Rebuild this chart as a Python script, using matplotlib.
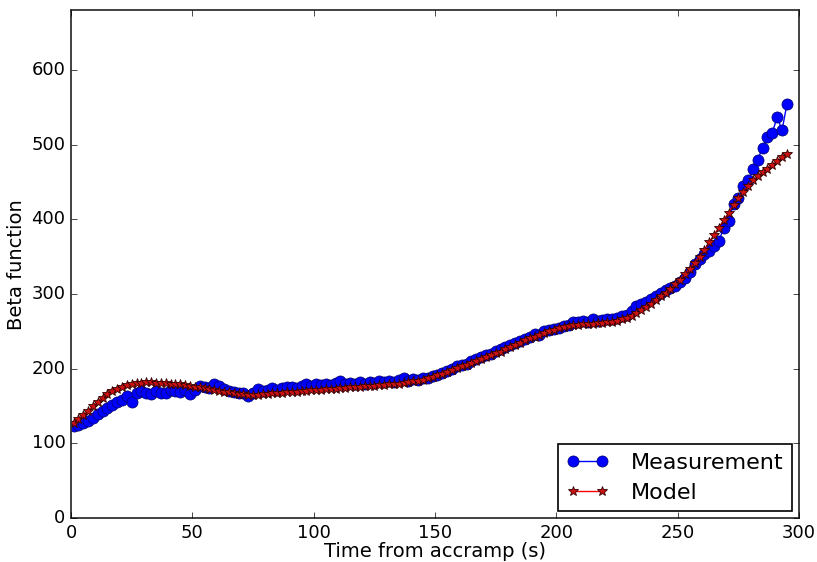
import numpy as np
import matplotlib
matplotlib.use("Agg")
import matplotlib.pyplot as plt

plt.style.use("classic")

# Time after start of acceleration ramp (s)
time_s = np.arange(1, 297, 2)

beta_measured = [
    123, 125, 127, 130, 134, 139, 143, 148, 152, 155,
    158, 163, 155, 167, 170, 168, 166, 170, 167, 168,
    172, 170, 169, 171, 166, 172, 177, 175, 174, 179,
    177, 173, 170, 169, 168, 167, 163, 168, 173, 170,
    172, 174, 172, 174, 175, 176, 174, 177, 179, 177,
    179, 178, 180, 178, 181, 183, 180, 181, 179, 182,
    180, 182, 181, 183, 182, 184, 182, 185, 187, 184,
    186, 185, 187, 188, 190, 192, 194, 197, 199, 203,
    205, 207, 211, 213, 216, 219, 220, 224, 227, 229,
    232, 235, 237, 240, 242, 246, 245, 250, 252, 253,
    255, 257, 259, 263, 262, 264, 262, 266, 264, 265,
    267, 266, 268, 270, 272, 277, 284, 287, 289, 293,
    297, 301, 305, 308, 311, 316, 322, 330, 340, 347,
    353, 357, 364, 371, 389, 398, 421, 429, 445, 452,
    467, 480, 496, 510, 516, 537, 519, 554,
]

beta_model = [
    128, 133, 138, 144, 150, 156, 161, 166, 170, 173,
    176, 178, 179.5, 180.5, 181.5, 182, 182, 181.5, 181, 180.5,
    180, 179.5, 179, 178, 177, 176, 175, 174, 173, 172,
    170.5, 169.5, 168.5, 167.5, 166.5, 166, 165.5, 165.5, 165.5, 166,
    166.5, 167, 167.5, 168, 168.5, 169, 169.5, 170, 170.5, 171,
    171.5, 172, 172.5, 173, 173.5, 174, 174.5, 175, 175.5, 176,
    176.5, 177, 177.5, 178, 178.5, 179, 179.5, 180, 181, 182,
    183, 184, 185.5, 187, 189, 191, 193, 195.5, 198, 200.5,
    203, 205.5, 208, 210.5, 213, 215.5, 218, 220.5, 223, 226,
    229, 232, 235, 238, 240.5, 243, 245.5, 248, 250, 252,
    254, 255.5, 257, 258, 259, 259.5, 260, 260.5, 261, 261.5,
    262, 263, 264, 266, 268.5, 271, 274, 278, 282, 287,
    292, 297, 302, 307, 313, 319, 327, 334, 342, 350,
    359, 369, 379, 389, 399, 409, 419, 428, 437, 445,
    452, 458, 463, 468, 473, 478, 483, 487,
]

fig = plt.figure(figsize=(8.17, 5.62), dpi=100, facecolor="white")
ax = fig.add_axes([0.087, 0.078, 0.891, 0.904])
ax.set_facecolor("white")
for sp in ax.spines.values():
    sp.set_linewidth(1.3)
    sp.set_color("#333333")

ax.plot(time_s, beta_measured, "b-o", lw=1.0, ms=8, mec="#000066",
        mew=0.5, label="Measurement")
ax.plot(time_s, beta_model, "r-*", lw=1.0, ms=7, mec="#330000",
        mfc="#cc1111", mew=0.6, label="Model")

ax.set_xlim(0, 300)
ax.set_ylim(0, 680)
ax.set_xticks([0, 50, 100, 150, 200, 250, 300])
ax.set_yticks([0, 100, 200, 300, 400, 500, 600])
ax.tick_params(labelsize=13)

ax.set_xlabel("Time from accramp (s)", fontsize=14, labelpad=0)
ax.set_ylabel("Beta function", fontsize=14, labelpad=4)

leg = ax.legend(loc="lower right", numpoints=2, fontsize=16,
                fancybox=False, shadow=False, borderaxespad=0.3,
                handlelength=1.9, handletextpad=1.0,
                borderpad=0.4, labelspacing=0.45)
leg.get_frame().set_edgecolor("black")
leg.get_frame().set_linewidth(1.2)

fig.savefig("out.png", dpi=100, facecolor="white")
